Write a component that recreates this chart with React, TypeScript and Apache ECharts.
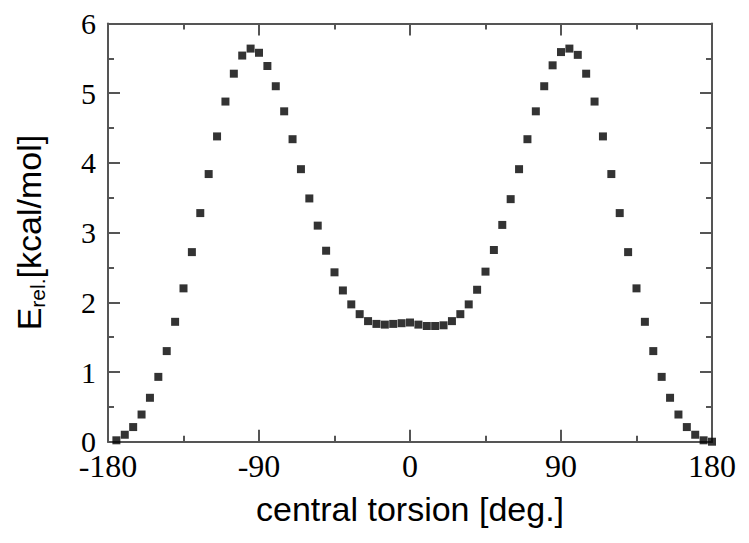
import React, { useEffect, useRef } from "react";
import * as echarts from "echarts";

const torsionDeg: number[] = [
  -175, -170, -165, -160, -155, -150, -145, -140, -135, -130, -125, -120,
  -115, -110, -105, -100, -95, -90, -85, -80, -75, -70, -65, -60,
  -55, -50, -45, -40, -35, -30, -25, -20, -15, -10, -5, 0,
  5, 10, 15, 20, 25, 30, 35, 40, 45, 50, 55, 60,
  65, 70, 75, 80, 85, 90, 95, 100, 105, 110, 115, 120,
  125, 130, 135, 140, 145, 150, 155, 160, 165, 170, 175, 180,
];

const energyRel: number[] = [
  0.02, 0.1, 0.21, 0.39, 0.63, 0.93, 1.3, 1.72, 2.2, 2.72, 3.28, 3.84,
  4.38, 4.88, 5.28, 5.54, 5.64, 5.58, 5.39, 5.1, 4.74, 4.34, 3.91, 3.49,
  3.1, 2.74, 2.43, 2.17, 1.97, 1.83, 1.73, 1.69, 1.68, 1.69, 1.7, 1.71,
  1.68, 1.66, 1.66, 1.67, 1.73, 1.83, 1.97, 2.18, 2.44, 2.75, 3.11, 3.48,
  3.91, 4.34, 4.74, 5.1, 5.4, 5.59, 5.64, 5.55, 5.28, 4.88, 4.38, 3.84,
  3.28, 2.72, 2.2, 1.72, 1.3, 0.93, 0.63, 0.39, 0.21, 0.1, 0.02, 0.0,
];

const xTicks = { min: -180, max: 180, interval: 90 };
const yTicks = { min: 0, max: 6, interval: 1 };

const xTitle = "central torsion [deg.]";
const yTitleMain = "E";
const yTitleSub = "rel.";
const yTitleUnit = "[kcal/mol]";

export default function App() {
  const ref = useRef<HTMLDivElement>(null);

  useEffect(() => {
    if (!ref.current) return;
    const chart = echarts.init(ref.current, undefined, { renderer: "svg" });
    const axisColor = "#555";
    const serif = "Liberation Serif";
    const sans = "Liberation Sans";

    const axisLine = { show: true, onZero: false, lineStyle: { color: axisColor, width: 2 } };
    const tick = { show: true, inside: true, length: 12, lineStyle: { color: axisColor, width: 2 } };
    const minor = { show: true, splitNumber: 2, length: 6, lineStyle: { color: axisColor, width: 2 } };

    chart.setOption({
      animation: false,
      backgroundColor: "#fff",
      grid: { left: 108, right: 37, top: 23.5, bottom: 101.3, containLabel: false },
      xAxis: [
        {
          type: "value",
          position: "bottom",
          min: xTicks.min,
          max: xTicks.max,
          interval: xTicks.interval,
          axisLine,
          axisTick: tick,
          minorTick: minor,
          splitLine: { show: false },
          axisLabel: { color: "#000", fontFamily: serif, fontSize: 32, lineHeight: 24, margin: 12 },
          name: xTitle,
          nameLocation: "middle",
          nameGap: 50,
          nameTextStyle: { color: "#000", fontFamily: sans, fontSize: 34 },
        },
        {
          type: "value",
          position: "top",
          min: xTicks.min,
          max: xTicks.max,
          interval: xTicks.interval,
          axisLine,
          axisTick: tick,
          minorTick: minor,
          splitLine: { show: false },
          axisLabel: { show: false },
        },
      ],
      yAxis: [
        {
          type: "value",
          position: "left",
          min: yTicks.min,
          max: yTicks.max,
          interval: yTicks.interval,
          axisLine,
          axisTick: tick,
          minorTick: minor,
          splitLine: { show: false },
          axisLabel: { color: "#000", fontFamily: serif, fontSize: 30, lineHeight: 22, margin: 12 },
          name: `{e|${yTitleMain}}{s|${yTitleSub}}{u|${yTitleUnit}}`,
          nameLocation: "middle",
          nameGap: 60,
          nameRotate: 90,
          nameTextStyle: {
            color: "#000",
            fontFamily: sans,
            fontSize: 34,
            rich: {
              e: { fontFamily: sans, fontSize: 34, lineHeight: 38, color: "#000" },
              s: { fontFamily: sans, fontSize: 21, lineHeight: 21, verticalAlign: "bottom", color: "#000" },
              u: { fontFamily: sans, fontSize: 34, lineHeight: 38, color: "#000" },
            },
          },
        },
        {
          type: "value",
          position: "right",
          min: yTicks.min,
          max: yTicks.max,
          interval: yTicks.interval,
          axisLine,
          axisTick: tick,
          minorTick: minor,
          splitLine: { show: false },
          axisLabel: { show: false },
        },
      ],
      series: [
        {
          type: "scatter",
          xAxisIndex: 0,
          yAxisIndex: 0,
          symbol: "rect",
          symbolSize: 8,
          itemStyle: { color: "#000" },
          data: torsionDeg.map((d, i) => [d, energyRel[i]]),
        },
      ],
    });
    return () => chart.dispose();
  }, []);

  return (
    <div
      ref={ref}
      style={{ position: "fixed", left: 0, top: 0, width: 749, height: 543, background: "#fff" }}
    />
  );
}
